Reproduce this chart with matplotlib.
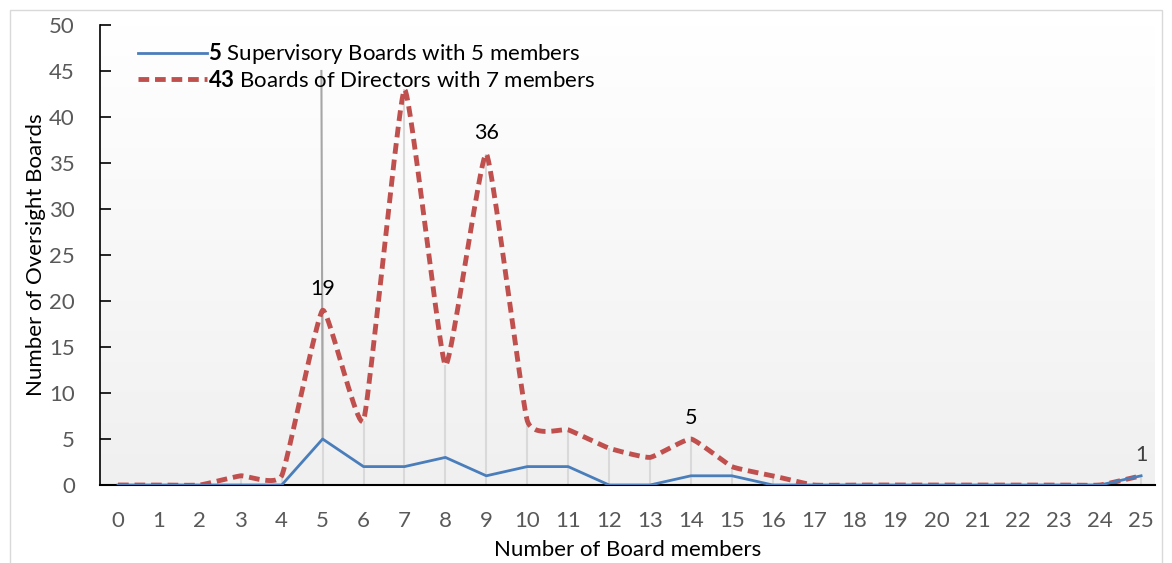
import numpy as np
import matplotlib
matplotlib.use('Agg')
import matplotlib.pyplot as plt
from matplotlib.patches import Rectangle
from matplotlib.colors import LinearSegmentedColormap

# Data
members = list(range(0, 26))
supervisory = [0, 0, 0, 0, 0, 5, 2, 2, 3, 1, 2, 2, 0, 0, 1, 1, 0,
               0, 0, 0, 0, 0, 0, 0, 0, 1]
directors = [0, 0, 0, 1, 1, 19, 7, 43, 13, 36, 7, 6, 4, 3, 5, 2, 1,
             0, 0, 0, 0, 0, 0, 0, 0, 1]
labelled = [5, 9, 14, 25]

font = 'Lato'
matplotlib.rc('font', family=font, size=12)
matplotlib.rcParams['mathtext.fontset'] = 'custom'
matplotlib.rcParams['mathtext.bf'] = font + ':bold'
matplotlib.rcParams['mathtext.rm'] = font


def smooth(x, y, c=0.2, n=20):
    # cardinal spline through the points (line smoothing only)
    x = np.asarray(x, float)
    y = np.asarray(y, float)
    mx = np.gradient(x) * c * 2
    my = np.gradient(y) * c * 2
    t = np.linspace(0, 1, n, endpoint=False)
    h00 = 2 * t**3 - 3 * t**2 + 1
    h10 = t**3 - 2 * t**2 + t
    h01 = -2 * t**3 + 3 * t**2
    h11 = t**3 - t**2
    xs, ys = [], []
    for i in range(len(x) - 1):
        xs.extend(h00 * x[i] + h10 * mx[i] + h01 * x[i + 1] + h11 * mx[i + 1])
        ys.extend(h00 * y[i] + h10 * my[i] + h01 * y[i + 1] + h11 * my[i + 1])
    xs.append(x[-1])
    ys.append(y[-1])
    return np.array(xs), np.array(ys)


fig = plt.figure(figsize=(11.72, 5.63), dpi=100)
fig.patches.append(Rectangle((10 / 1172, -0.1), 1152 / 1172, 1.1 - 10 / 563,
                             transform=fig.transFigure, fill=False,
                             edgecolor='#d9d9d9', lw=1))
ax = fig.add_axes([100 / 1172, 1 - 485 / 563, 1055 / 1172, 460 / 563])

xmin, xmax = -0.44, 25.34
ax.set_xlim(xmin, xmax)
ax.set_ylim(0, 50)

# Gradient background
grad = np.linspace(1, 0, 256).reshape(-1, 1)
cmap = LinearSegmentedColormap.from_list('g', ['#f0f0f0', '#ffffff'])
ax.imshow(grad, extent=[xmin, xmax, 0, 50], aspect='auto', cmap=cmap,
          zorder=0, origin='upper')

# Drop lines
top = np.maximum(supervisory, directors)
ax.vlines(members, 0, top, color='#d9d9d9', lw=1.5, zorder=1)
ax.plot([4.97, 5], [45, 5], color='#a6a6a6', lw=1.5, zorder=1)

ax.plot(members, supervisory, color='#4a7ebb', lw=2, zorder=3,
        label=r'$\bf{5}$ Supervisory Boards with 5 members')
sx, sy = smooth(members, directors)
ax.plot(sx, sy, color='#c0504d', lw=3.5, ls=(0, (2.2, 1.2)), zorder=2,
        label=r'$\bf{43}$ Boards of Directors with 7 members')

for i in labelled:
    ax.annotate(str(directors[i]), (members[i], directors[i]),
                xytext=(0, 8), textcoords='offset points', ha='center',
                va='bottom', fontsize=15.5,
                color='#404040' if i == 25 else 'black')

leg = ax.legend(loc='upper left', bbox_to_anchor=(0.021, 0.998),
                frameon=False, handlelength=3.1, handletextpad=0.05,
                labelspacing=0.15, fontsize=16, borderpad=0.2)

ax.set_xticks(members)
ax.set_yticks(range(0, 51, 5))
ax.tick_params(axis='x', length=0, pad=19, labelsize=16, labelcolor='#595959')
ax.tick_params(axis='y', direction='in', length=8, width=1.2, pad=18,
               labelsize=16, labelcolor='#595959')
for s in ['top', 'right']:
    ax.spines[s].set_visible(False)
ax.spines['left'].set_linewidth(1.2)
ax.spines['bottom'].set_linewidth(1.5)

ax.set_xlabel('Number of Board members', fontsize=16, labelpad=6)
ax.set_ylabel('Number of Oversight Boards', fontsize=16, labelpad=2)

fig.savefig('out.png')
